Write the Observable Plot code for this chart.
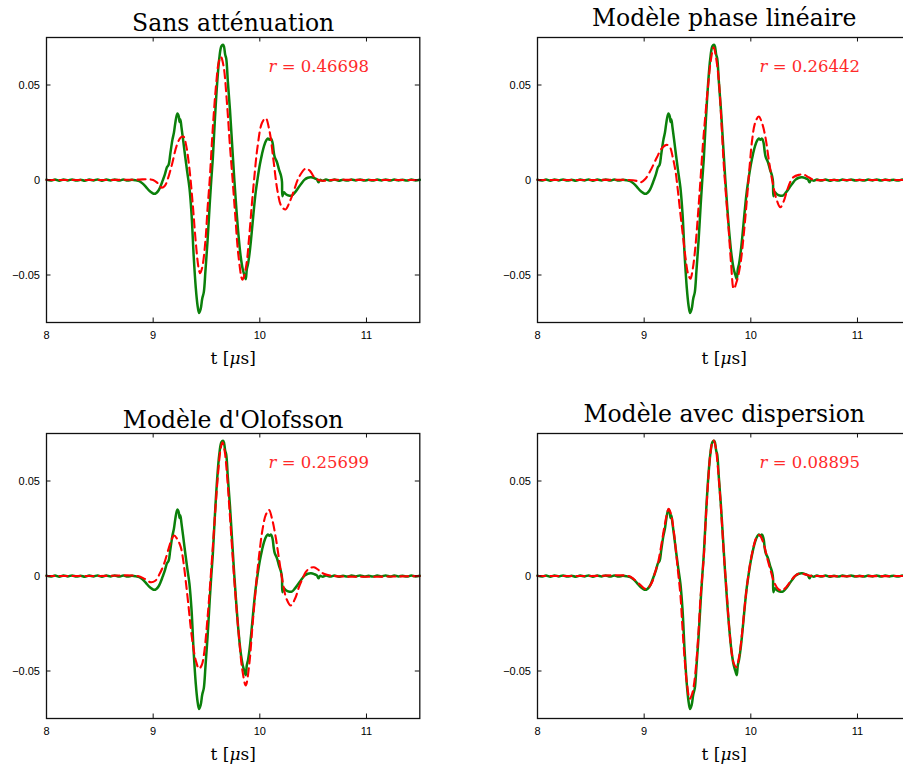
<!DOCTYPE html>
<html><head><meta charset="utf-8">
<script src="https://cdn.jsdelivr.net/npm/d3@7"></script>
<script src="https://cdn.jsdelivr.net/npm/@observablehq/plot@0.6"></script>
<style>
html,body{margin:0;padding:0;background:#fff;overflow:hidden;width:903px;height:764px}
#root{position:relative;width:903px;height:764px;overflow:hidden}
.panel{position:absolute;width:432px;height:372px}
.panel svg{max-width:none !important;width:432px;height:372px}
</style></head><body><div id="root"></div>
<script>
// ---- data ----
const titles = ["Sans atténuation", "Modèle phase linéaire", "Modèle d'Olofsson", "Modèle avec dispersion"];
const rValues = ["0.46698", "0.26442", "0.25699", "0.08895"];
const xTicks = [8, 9, 10, 11];
const xTickLabels = ["8", "9", "10", "11"];
const yTicks = [-0.05, 0, 0.05];
const yTickLabels = ["\u22120.05", "0", "0.05"];
const xLabel = "t [μs]";

// measured signal (green), [t (µs), amplitude]
const measured = [
[8.00,0.0002],[8.04,-0.0003],[8.08,0.0002],[8.12,-0.0004],[8.16,0.0003],[8.20,-0.0002],[8.24,0.0003],[8.28,-0.0003],[8.32,0.0001],[8.36,-0.0004],[8.40,0.0002],[8.44,-0.0002],[8.48,0.0003],[8.52,-0.0004],[8.56,0.0002],[8.60,-0.0002],[8.64,0.0003],[8.68,-0.0003],[8.72,0.0002],[8.76,-0.0003],[8.80,0.0001],[8.84,-0.0002],[8.87,-0.0006],
[8.90,-0.0018],[8.93,-0.0035],[8.96,-0.0055],[8.99,-0.0068],[9.01,-0.0073],[9.03,-0.0068],[9.05,-0.0055],[9.07,-0.0032],[9.09,-0.0002],[9.11,0.0030],[9.13,0.0068],[9.145,0.0080],[9.16,0.0135],[9.18,0.0210],[9.195,0.0250],[9.205,0.0290],[9.215,0.0325],[9.228,0.0350],[9.24,0.0335],[9.248,0.0305],[9.255,0.0318],[9.265,0.0280],[9.28,0.0215],[9.30,0.0125],[9.32,0.0040],[9.34,-0.0040],[9.36,-0.0180],[9.38,-0.0400],[9.40,-0.0570],[9.415,-0.0655],[9.43,-0.0700],[9.445,-0.0680],[9.46,-0.0625],[9.475,-0.0590],[9.49,-0.0480],[9.51,-0.0320],[9.53,-0.0130],[9.545,0.0000],[9.56,0.0120],[9.58,0.0330],[9.60,0.0510],[9.62,0.0640],[9.64,0.0705],[9.655,0.0712],[9.665,0.0700],[9.675,0.0660],[9.685,0.0640],[9.70,0.0520],[9.72,0.0370],[9.74,0.0190],[9.76,0.0010],[9.78,-0.0150],[9.80,-0.0290],[9.82,-0.0400],[9.84,-0.0470],[9.855,-0.0500],[9.868,-0.0522],[9.878,-0.0470],[9.89,-0.0440],[9.905,-0.0380],[9.92,-0.0300],[9.94,-0.0180],[9.96,-0.0070],[9.98,0.0010],[10.00,0.0080],[10.02,0.0135],[10.04,0.0180],[10.06,0.0208],[10.075,0.0218],[10.09,0.0212],[10.105,0.0218],[10.12,0.0195],[10.13,0.0150],[10.14,0.0120],[10.16,0.0095],[10.18,0.0055],[10.20,0.0020],[10.208,-0.0010],[10.212,-0.0085],[10.225,-0.0065],[10.245,-0.0075],[10.27,-0.0082],[10.30,-0.0082],[10.33,-0.0065],[10.36,-0.0042],[10.39,-0.0018],[10.42,0.0002],[10.45,0.0012],[10.48,0.0014],[10.51,0.0010],[10.535,0.0003],[10.55,-0.0012],[10.565,0.0001],[10.59,-0.0004],[10.62,0.0002],[10.66,-0.0003],[10.70,0.0002],[10.74,-0.0004],[10.78,0.0001],[10.82,-0.0003],[10.86,0.0002],[10.90,-0.0002],[10.94,0.0003],[10.98,-0.0003],[11.02,0.0001],[11.06,-0.0003],[11.10,0.0002],[11.14,-0.0002],[11.18,0.0003],[11.22,-0.0003],[11.26,0.0002],[11.30,-0.0002],[11.34,0.0001],[11.38,-0.0003],[11.42,0.0002],[11.46,-0.0002],[11.50,0.0001]
];

// model signals (red dashed)
const sansAttenuation = [
[8.0,0],[8.5,0],[8.85,0.0002],[8.95,0.0004],[9.0,0.0],[9.04,-0.0015],[9.08,-0.0040],[9.11,-0.0030],[9.14,0.0010],[9.18,0.0090],[9.22,0.0180],[9.26,0.0225],[9.285,0.0228],[9.31,0.0180],[9.34,0.0060],[9.37,-0.0120],[9.40,-0.0330],[9.425,-0.0460],[9.44,-0.0490],[9.46,-0.0460],[9.49,-0.0320],[9.51,-0.0150],[9.53,0.0],[9.56,0.0280],[9.59,0.0500],[9.615,0.0620],[9.635,0.0648],[9.66,0.0600],[9.69,0.0420],[9.72,0.0180],[9.745,0.0],[9.77,-0.0190],[9.80,-0.0400],[9.837,-0.0525],[9.87,-0.0460],[9.90,-0.0300],[9.925,-0.0130],[9.946,0.0],[9.98,0.0180],[10.02,0.0300],[10.055,0.0325],[10.09,0.0260],[10.13,0.0095],[10.165,-0.0055],[10.20,-0.0135],[10.24,-0.0155],[10.28,-0.0115],[10.32,-0.0055],[10.367,0.0015],[10.43,0.0060],[10.47,0.0048],[10.51,0.0015],[10.57,-0.0003],[10.7,0.0001],[11.0,0],[11.5,0]
];
const phaseLineaire = [
[8,0],[8.5,0],[8.85,0],[8.93,-0.0005],[8.97,-0.0012],[9.01,0.0005],[9.06,0.0050],[9.12,0.0120],[9.17,0.0170],[9.21,0.0185],[9.24,0.0175],[9.27,0.0115],[9.293,0.0050],[9.315,-0.0050],[9.34,-0.0178],[9.365,-0.0300],[9.387,-0.0406],[9.41,-0.0490],[9.434,-0.0520],[9.455,-0.0470],[9.48,-0.0354],[9.505,-0.0180],[9.528,0.0],[9.55,0.0180],[9.575,0.0348],[9.60,0.0500],[9.625,0.0630],[9.652,0.0699],[9.675,0.0640],[9.70,0.0524],[9.723,0.0320],[9.746,0.0085],[9.77,-0.0100],[9.793,-0.0266],[9.815,-0.0440],[9.84,-0.0573],[9.87,-0.0530],[9.903,-0.0441],[9.935,-0.0280],[9.965,-0.0090],[9.99,0.0080],[10.012,0.0208],[10.04,0.0300],[10.074,0.0334],[10.105,0.0300],[10.137,0.0225],[10.17,0.0100],[10.2,0.0],[10.24,-0.0100],[10.277,-0.0143],[10.31,-0.0110],[10.34,-0.0055],[10.37,-0.0010],[10.40,0.0015],[10.45,0.0027],[10.496,0.0029],[10.54,0.0015],[10.59,0.0001],[10.7,0],[11.5,0]
];
const olofsson = [
[8,0],[8.5,0],[8.85,0],[8.92,-0.0015],[8.978,-0.0033],[9.02,-0.0025],[9.06,0.0010],[9.102,0.0064],[9.149,0.0152],[9.175,0.0195],[9.196,0.0213],[9.225,0.0195],[9.259,0.0152],[9.285,0.0070],[9.305,-0.0024],[9.33,-0.0150],[9.352,-0.0270],[9.375,-0.0370],[9.40,-0.0445],[9.43,-0.0488],[9.455,-0.0470],[9.477,-0.0410],[9.51,-0.0220],[9.54,0.0],[9.565,0.0200],[9.587,0.0380],[9.61,0.0550],[9.63,0.0660],[9.65,0.0704],[9.67,0.0660],[9.69,0.0550],[9.712,0.0380],[9.735,0.0190],[9.758,0.0],[9.78,-0.0160],[9.805,-0.0322],[9.835,-0.0490],[9.868,-0.0576],[9.90,-0.0470],[9.93,-0.0270],[9.955,-0.0110],[9.978,0.0029],[10.0,0.0140],[10.024,0.0240],[10.055,0.0320],[10.086,0.0348],[10.115,0.0300],[10.149,0.0204],[10.18,0.0090],[10.212,-0.0024],[10.25,-0.0120],[10.29,-0.0155],[10.33,-0.0120],[10.367,-0.0059],[10.40,-0.0015],[10.43,0.0020],[10.47,0.0042],[10.508,0.0046],[10.55,0.0032],[10.60,0.0012],[10.69,0.0],[11.5,0]
];
const dispersion = [
[8,0],[8.5,0],[8.85,0],[8.90,-0.0015],[8.95,-0.0040],[9.0,-0.0065],[9.015,-0.0068],[9.05,-0.0055],[9.08,-0.0025],[9.10,0.0015],[9.13,0.0070],[9.16,0.0160],[9.19,0.0260],[9.215,0.0330],[9.23,0.0354],[9.25,0.0330],[9.28,0.0225],[9.30,0.0120],[9.32,0.0010],[9.34,-0.0100],[9.36,-0.0280],[9.38,-0.0440],[9.40,-0.0560],[9.427,-0.0646],[9.45,-0.0620],[9.47,-0.0560],[9.49,-0.0450],[9.51,-0.0290],[9.53,-0.0100],[9.545,0.0],[9.56,0.0110],[9.58,0.0320],[9.60,0.0500],[9.62,0.0640],[9.64,0.0705],[9.652,0.0713],[9.67,0.0680],[9.69,0.0580],[9.71,0.0440],[9.73,0.0270],[9.75,0.0090],[9.765,-0.0020],[9.78,-0.0140],[9.80,-0.0290],[9.82,-0.0400],[9.84,-0.0460],[9.865,-0.0480],[9.885,-0.0440],[9.90,-0.0390],[9.92,-0.0290],[9.94,-0.0175],[9.96,-0.0070],[9.98,0.0015],[10.0,0.0085],[10.02,0.0140],[10.04,0.0185],[10.06,0.0210],[10.083,0.0215],[10.10,0.0200],[10.13,0.0150],[10.16,0.0080],[10.19,0.0020],[10.22,-0.0035],[10.26,-0.0070],[10.293,-0.0076],[10.33,-0.0060],[10.37,-0.0030],[10.41,-0.0002],[10.45,0.0012],[10.50,0.0010],[10.55,0.0002],[10.6,0],[11.5,0]
];
const models = [sansAttenuation, phaseLineaire, olofsson, dispersion];

// ---- layout ----
const W = 432, H = 372, ML = 46, MR = 12.7, MT = 37, MB = 50;
const FW = W - ML - MR, FH = H - MT - MB, TL = 4.5;
const positions = [[0, 0], [491, 0], [0, 396], [491, 396]];
const titleOffsets = [6.3, 12, 6, 12];
const serif = "'DejaVu Serif', serif";
const sans = "'Liberation Sans', Arial, Helvetica, sans-serif";
const RED = "#ff0000", GREEN = "#0b800b";

const root = document.getElementById("root");
titles.forEach((title, i) => {
  const chart = Plot.plot({
    width: W, height: H,
    marginLeft: ML, marginRight: MR, marginTop: MT, marginBottom: MB,
    style: {fontFamily: sans, fontSize: "11px", background: "transparent", overflow: "visible", color: "#000", maxWidth: "none"},
    x: {domain: [8, 11.5]},
    y: {domain: [-0.075, 0.075]},
    marks: [
      Plot.line(measured, {x: d => d[0], y: d => d[1], stroke: GREEN, strokeWidth: 2.5, curve: "catmull-rom"}),
      Plot.line(models[i], {x: d => d[0], y: d => d[1], stroke: RED, strokeWidth: 2.1, strokeDasharray: "8,5", curve: "catmull-rom"}),
      Plot.frame({stroke: "#111", strokeWidth: 1.3}),
      Plot.tickX(xTicks, {x: d => d, insetTop: FH - TL, stroke: "#111"}),
      Plot.tickX(xTicks, {x: d => d, insetBottom: FH - TL, stroke: "#111"}),
      Plot.tickY(yTicks, {y: d => d, insetRight: FW - TL, stroke: "#111"}),
      Plot.tickY(yTicks, {y: d => d, insetLeft: FW - TL, stroke: "#111"}),
      Plot.axisX({ticks: xTicks, tickFormat: (d) => xTickLabels[xTicks.indexOf(d)], tickSize: 0, tickPadding: 9, label: null, fontSize: 11}),
      Plot.axisY({ticks: yTicks, tickFormat: (d) => yTickLabels[yTicks.indexOf(d)], tickSize: 0, tickPadding: 6.5, label: null, fontSize: 11}),
      Plot.text([title], {frameAnchor: "top", dy: -titleOffsets[i], lineAnchor: "bottom", fontSize: 23.5, fontFamily: serif, fill: "#000"}),
      Plot.text([xLabel], {frameAnchor: "bottom", dy: 41, lineAnchor: "bottom", fontSize: 17, fontFamily: serif, fill: "#000"}),
      Plot.text(["r = " + rValues[i]], {frameAnchor: "top-left", dx: 222, dy: 34.5, textAnchor: "start", lineAnchor: "bottom", fontSize: 16.5, fontFamily: serif, fill: "#ff2a2a"})
    ]
  });
  // italic math symbols
  d3.select(chart).selectAll("text").each(function() {
    const t = this.textContent;
    const el = d3.select(this);
    if (t === xLabel) {
      el.text(null);
      el.append("tspan").text("t [");
      el.append("tspan").attr("font-style", "italic").text("μ");
      el.append("tspan").text("s]");
    } else if (t.startsWith("r = ")) {
      el.text(null);
      el.append("tspan").attr("font-style", "italic").text("r");
      el.append("tspan").text(t.slice(1));
    }
  });
  const div = document.createElement("div");
  div.className = "panel";
  div.style.left = positions[i][0] + "px";
  div.style.top = positions[i][1] + "px";
  div.appendChild(chart);
  root.appendChild(div);
});
</script></body></html>
